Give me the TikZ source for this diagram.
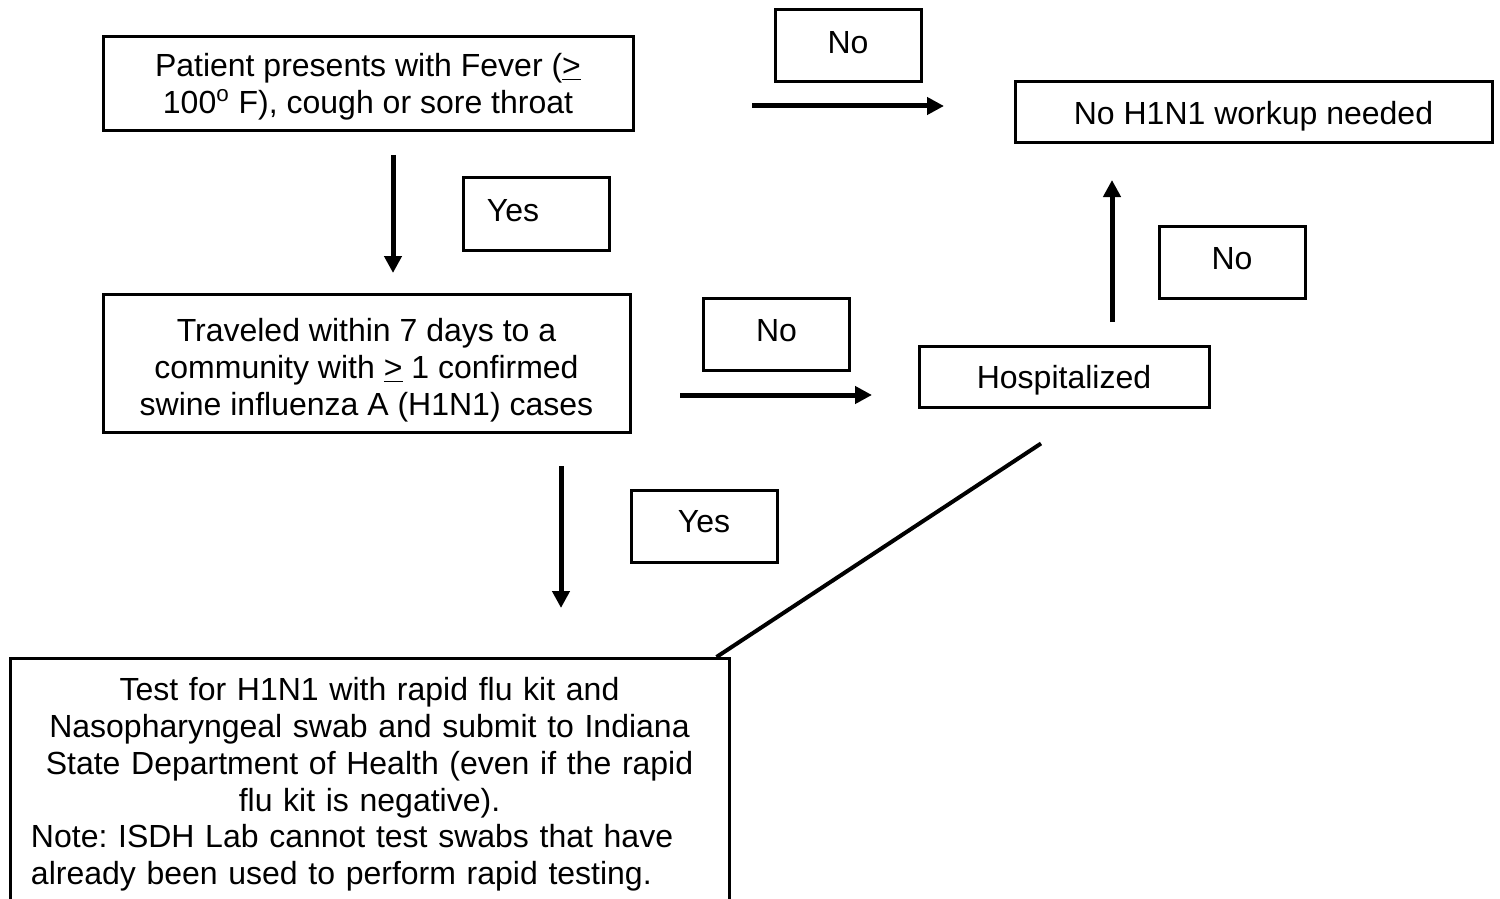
\documentclass[tikz,border=0pt]{standalone}
\usepackage{fontspec}
\setmainfont{Liberation Sans}
\usetikzlibrary{arrows.meta}
\newcommand\lowtext[2]{\raisebox{0pt}[\dimexpr\height+#1\relax][\depth]{\begin{tabular}{@{}c@{}}#2\end{tabular}}}
\begin{document}
\begin{tikzpicture}[x=0.5pt,y=-0.5pt,
  box/.style={draw, line width=1.5pt, inner sep=0pt, align=center, font=\fontsize{16}{18.4}\selectfont\frenchspacing},
  lblbox/.style={box, minimum width=73pt, minimum height=36pt},
  arr/.style={line width=2.5pt, -{Triangle[width=8.5pt,length=8.5pt]}},
  diag/.style={line width=2pt},
]
\clip (0,0) rectangle (1500,899);
% main boxes
\node[box, minimum width=265pt, minimum height=47pt] (fever) at (368,84)
  {\lowtext{4pt}{Patient presents with Fever (\underline{>}\\100\textsuperscript{o} F), cough or sore throat}};
\node[box, minimum width=238.5pt, minimum height=30.5pt] (nowork) at (1253.5,112.5)
  {\lowtext{5pt}{No H1N1 workup needed}};
\node[box, minimum width=263.5pt, minimum height=69pt] (travel) at (366.5,363)
  {\lowtext{8pt}{Traveled within 7 days to a\\community with \underline{>} 1 confirmed\\swine influenza A (H1N1) cases}};
\node[box, minimum width=145pt, minimum height=30.5pt] (hosp) at (1064,376.5)
  {\lowtext{5pt}{Hospitalized}};
\node[box, anchor=north, text width=338.5pt, align=left, inner xsep=10.5pt, inner ysep=9.5pt] (test) at (369.5,657)
  {\centering Test for H1N1 with rapid flu kit and\\
   Nasopharyngeal swab and submit to Indiana\\
   State Department of Health (even if the rapid\\
   flu kit is negative).\par
   \raggedright Note: ISDH Lab cannot test swabs that have\\
   already been used to perform rapid testing.\rule[-30pt]{0pt}{0pt}};
% label boxes
\node[lblbox] (no1) at (848,46) {\raisebox{4pt}{No}};
\node[lblbox] (yes1) at (536,214) {\raisebox{4pt}{Yes}\hspace*{23pt}};
\node[lblbox] (no2) at (776.5,334) {\raisebox{4pt}{No}};
\node[lblbox] (no3) at (1232,262) {\raisebox{4pt}{No}};
\node[lblbox] (yes2) at (704,526) {\raisebox{5pt}{Yes}};
% arrow end points
\coordinate (a1s) at (752,106);
\coordinate (a1e) at (944,106);
\coordinate (a2s) at (393,155);
\coordinate (a2e) at (393,273);
\coordinate (a3s) at (680,395);
\coordinate (a3e) at (872,395);
\coordinate (a4s) at (1112,322);
\coordinate (a4e) at (1112,180);
\coordinate (a5s) at (561,466);
\coordinate (a5e) at (561,608);
\draw[arr] (a1s) -- (a1e);
\draw[arr] (a2s) -- (a2e);
\draw[arr] (a3s) -- (a3e);
\draw[arr] (a4s) -- (a4e);
\draw[arr] (a5s) -- (a5e);
% diagonal line
\draw[diag] ([shift={(-23,35)}]hosp.south) -- ([xshift=-7pt]test.north east);
\end{tikzpicture}
\end{document}
